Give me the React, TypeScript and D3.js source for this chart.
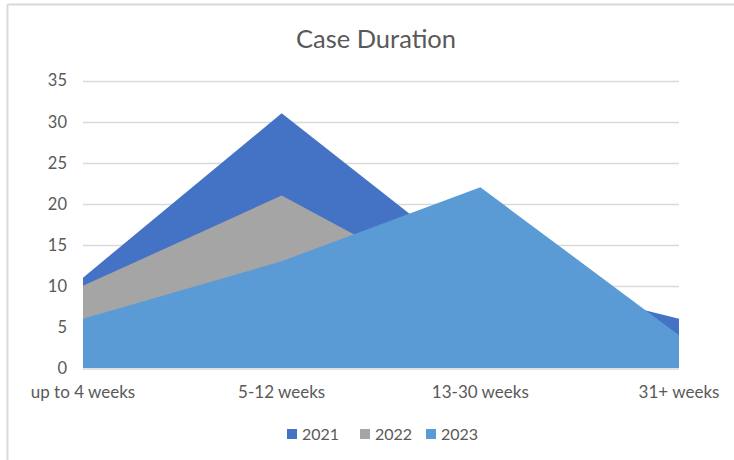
import React from "react";
import * as d3 from "d3";

const categories = ["up to 4 weeks", "5-12 weeks", "13-30 weeks", "31+ weeks"];
const series2021 = [11, 31, 12, 6];
const series2022 = [10, 21, 8, 3];
const series2023 = [6, 13, 22, 4];
const seriesNames = ["2021", "2022", "2023"];
const yTicks = [0, 5, 10, 15, 20, 25, 30, 35];
const colors = ["#4472C4", "#A5A5A5", "#5B9BD5"];

const W = 734;
const H = 460;
const FONT = "Lato, 'Open Sans', sans-serif";
const TEXT = "#595959";

export default function App() {
  const x = d3.scalePoint<string>().domain(categories).range([83, 679]);
  const y = d3.scaleLinear().domain([0, 35]).range([368, 80.5]);
  const all = [series2021, series2022, series2023];
  const area = d3
    .area<number>()
    .x((_, i) => x(categories[i]) as number)
    .y0(y(0))
    .y1((d) => y(d));

  const legendX = [287, 360, 426];

  return (
    <svg
      width={W}
      height={H}
      style={{ position: "absolute", left: 0, top: 0, background: "#fff" }}
    >
      <rect x={0} y={0} width={W} height={H} fill="#fff" />
      <line x1={7.5} y1={4.5} x2={W} y2={4.5} stroke="#d9d9d9" strokeWidth={2} />
      <line x1={7.5} y1={4.5} x2={7.5} y2={H} stroke="#d9d9d9" strokeWidth={2} />
      <text
        x={376}
        y={48}
        textAnchor="middle"
        fontFamily={FONT}
        fontSize={25.5}
        fill={TEXT}
      >
        Case Duration
      </text>
      {yTicks.map((t) => (
        <g key={t}>
          {t > 0 && (
            <line
              x1={83}
              x2={679}
              y1={Math.round(y(t)) + 0.5}
              y2={Math.round(y(t)) + 0.5}
              stroke="#d9d9d9"
              strokeWidth={1.3}
            />
          )}
          <text
            x={67}
            y={y(t)}
            dy="0.36em"
            textAnchor="end"
            fontFamily={FONT}
            fontSize={16.5}
            fill={TEXT}
          >
            {t}
          </text>
        </g>
      ))}
      <line x1={83} x2={679} y1={369} y2={369} stroke="#d9d9d9" strokeWidth={1.5} />
      {all.map((s, i) => (
        <path key={i} d={area(s) as string} fill={colors[i]} />
      ))}
      {categories.map((c) => (
        <text
          key={c}
          x={x(c) as number}
          y={398}
          textAnchor="middle"
          fontFamily={FONT}
          fontSize={17}
          fill={TEXT}
        >
          {c}
        </text>
      ))}
      {seriesNames.map((n, i) => (
        <g key={n}>
          <rect x={legendX[i]} y={429} width={10} height={10} fill={colors[i]} />
          <text
            x={legendX[i] + 15}
            y={440}
            fontFamily={FONT}
            fontSize={16}
            fill={TEXT}
          >
            {n}
          </text>
        </g>
      ))}
    </svg>
  );
}
